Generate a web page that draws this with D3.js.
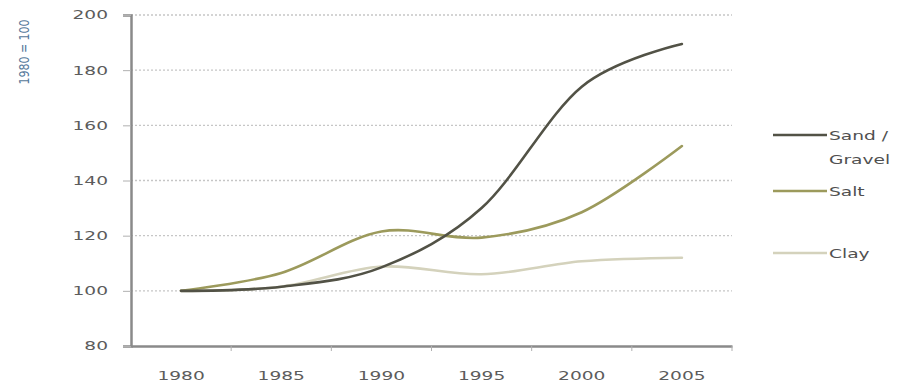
<!DOCTYPE html>
<html>
<head>
<meta charset="utf-8">
<script src="https://cdn.jsdelivr.net/npm/d3@7/dist/d3.min.js"></script>
<style>
  html, body { margin: 0; padding: 0; background: #fff; }
  svg { display: block; }
</style>
</head>
<body>
<svg id="chart" width="901" height="384"></svg>
<script>
// Production index, 1980 = 100
const years = ["1980", "1985", "1990", "1995", "2000", "2005"];
const sandGravel = [100, 101.5, 108.5, 130, 174, 189.5];
const salt = [100, 106.5, 121.5, 119.3, 128.5, 152.5];
const clay = [100, 101.5, 108.8, 106, 110.7, 112];
const yTicks = [80, 100, 120, 140, 160, 180, 200];

const series = [
  { name: ["Sand /", "Gravel"], values: sandGravel, color: "#525246", ly: 135 },
  { name: ["Salt"], values: salt, color: "#9c9a5c", ly: 191 },
  { name: ["Clay"], values: clay, color: "#d4d2bc", ly: 253 }
];

const FONT = "'DejaVu Sans', Verdana, sans-serif";
const WIDEN = 1.55; // wide lettering: glyphs stretched horizontally

// stretch each text node horizontally while keeping its anchor
function widen(sel) {
  sel.each(function () {
    const len = this.getComputedTextLength();
    d3.select(this)
      .attr("textLength", len * WIDEN)
      .attr("lengthAdjust", "spacingAndGlyphs");
  });
}

const svg = d3.select("#chart");
const plotLeft = 131, plotRight = 732, plotTop = 15, plotBottom = 346;

const x = d3.scaleBand().domain(years).range([plotLeft, plotRight]);
const y = d3.scaleLinear().domain([80, 200]).range([plotBottom, plotTop]);

// dotted horizontal gridlines
svg.append("g")
  .selectAll("line")
  .data(yTicks.filter(d => d > 80))
  .join("line")
  .attr("x1", plotLeft).attr("x2", plotRight)
  .attr("y1", d => y(d)).attr("y2", d => y(d))
  .attr("stroke", "#c6c6c6")
  .attr("stroke-width", 1.3)
  .attr("stroke-dasharray", "2,2");

// y axis
const yAxis = svg.append("g")
  .attr("transform", `translate(${plotLeft},0)`)
  .call(d3.axisLeft(y).tickValues(yTicks).tickSize(8).tickPadding(15).tickFormat(d3.format("d")));
yAxis.select(".domain").attr("stroke", "#8a8a8a").attr("stroke-width", 2.5);
yAxis.selectAll(".tick line").attr("stroke", "#b0b0b0").attr("stroke-width", 1);
yAxis.selectAll("text")
  .attr("fill", "#5c5c5c")
  .style("font-family", FONT)
  .style("font-size", "12px")
  .call(widen);

// x axis: category labels centred between tick marks
const xAxis = svg.append("g")
  .attr("transform", `translate(0,${plotBottom})`)
  .call(d3.axisBottom(x).tickSize(0).tickPadding(25));
xAxis.select(".domain").attr("stroke", "#8a8a8a").attr("stroke-width", 2.5);
xAxis.selectAll("text")
  .attr("fill", "#5c5c5c")
  .style("font-family", FONT)
  .style("font-size", "12px")
  .call(widen);
// boundary tick marks
xAxis.append("g")
  .selectAll("line")
  .data(years)
  .join("line")
  .attr("x1", d => x(d) + x.step())
  .attr("x2", d => x(d) + x.step())
  .attr("y1", 0).attr("y2", 5)
  .attr("stroke", "#b0b0b0");

// y axis title
svg.append("text")
  .attr("transform", "translate(29,52) scale(1.3,1) rotate(-90)")
  .attr("text-anchor", "middle")
  .attr("fill", "#56789a")
  .style("font-family", FONT)
  .style("font-size", "11px")
  .text("1980 = 100");

// smoothed series lines
const line = d3.line()
  .x((d, i) => x(years[i]) + x.bandwidth() / 2)
  .y(d => y(d))
  .curve(d3.curveCatmullRom.alpha(0));

// draw light series first so darker ones sit on top
[...series].reverse().forEach(s => {
  svg.append("path")
    .datum(s.values)
    .attr("d", line)
    .attr("fill", "none")
    .attr("stroke", s.color)
    .attr("stroke-width", 2.6)
    .attr("stroke-linecap", "round");
});

// legend
const legend = svg.append("g");
series.forEach(s => {
  legend.append("line")
    .attr("x1", 773).attr("x2", 827)
    .attr("y1", s.ly).attr("y2", s.ly)
    .attr("stroke", s.color)
    .attr("stroke-width", 2.6);
  s.name.forEach((n, i) => {
    legend.append("text")
      .attr("x", 829)
      .attr("y", s.ly + 4.5 + i * 24)
      .attr("fill", "#505050")
      .style("font-family", FONT)
      .style("font-size", "12px")
      .text(n)
      .call(widen);
  });
});
</script>
</body>
</html>
